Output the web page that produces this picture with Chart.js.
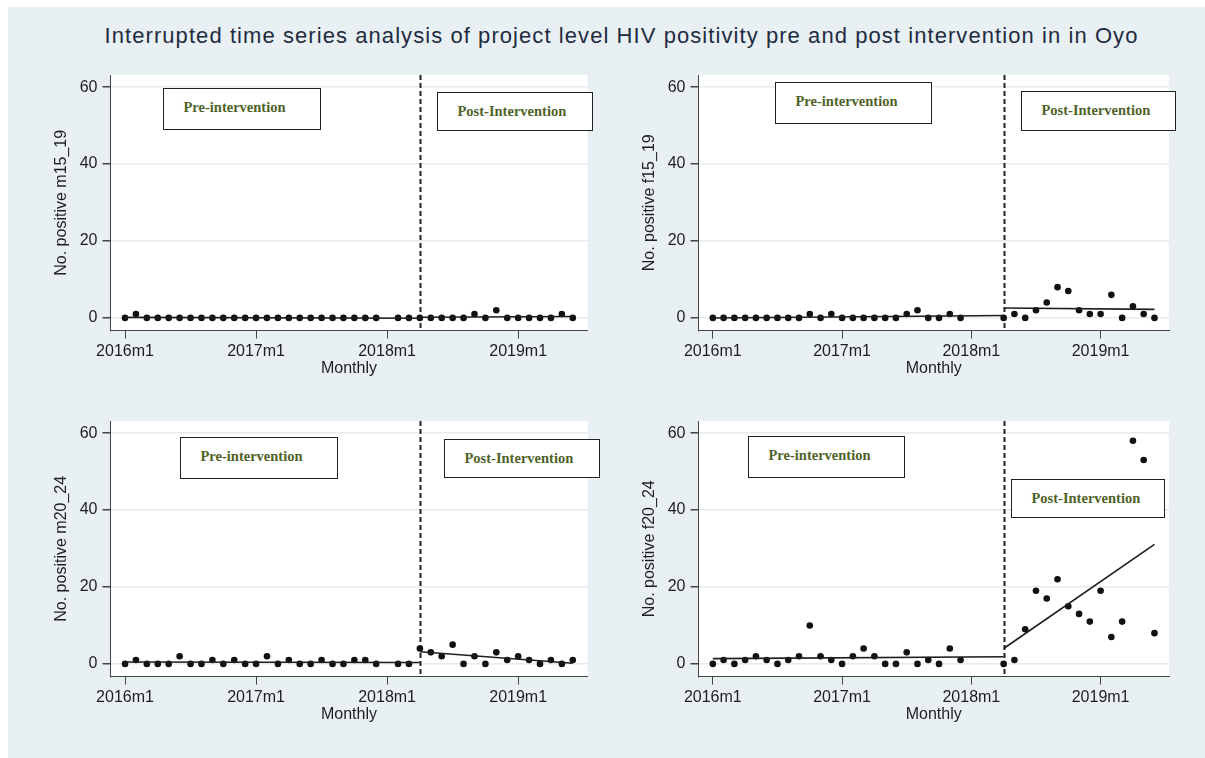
<!DOCTYPE html>
<html>
<head>
<meta charset="utf-8">
<script src="https://cdn.jsdelivr.net/npm/chart.js@4.4.0/dist/chart.umd.min.js"></script>
<style>
  html, body { margin: 0; padding: 0; background: #ffffff; }
  #frame { position: absolute; left: 8px; top: 7px; width: 1197px; height: 751px; background: #e8f0f3; }
  #title { position: absolute; left: 0; top: 23px; width: 1243px; text-align: center; white-space: nowrap;
           font: 22px "Liberation Sans", Arial, sans-serif; letter-spacing: 1.07px; color: #1f2b42; }
  .panel { position: absolute; }
  .note { position: absolute; box-sizing: border-box; background: #ffffff; border: 1.5px solid #222222;
          font: bold 14.5px "Liberation Serif", "Times New Roman", serif; color: #4f6228;
          padding-left: 19.5px; line-height: 17px; white-space: nowrap; }
</style>
</head>
<body>
<div id="frame"></div>
<div id="title">Interrupted time series analysis of project level HIV positivity pre and post intervention in in Oyo</div>

<canvas id="c1" class="panel" width="570" height="330" style="left:40px;top:60px"></canvas>
<canvas id="c2" class="panel" width="570" height="330" style="left:628px;top:60px"></canvas>
<canvas id="c3" class="panel" width="570" height="330" style="left:40px;top:406px"></canvas>
<canvas id="c4" class="panel" width="570" height="330" style="left:628px;top:406px"></canvas>

<div class="note" style="left:163px;top:88px;width:158px;height:42px;padding-top:10px">Pre-intervention</div>
<div class="note" style="left:437px;top:92px;width:156px;height:39px;padding-top:10px">Post-Intervention</div>
<div class="note" style="left:775px;top:82px;width:157px;height:42px;padding-top:10px">Pre-intervention</div>
<div class="note" style="left:1021px;top:91px;width:155px;height:40px;padding-top:10px">Post-Intervention</div>
<div class="note" style="left:180px;top:437px;width:158px;height:42px;padding-top:10px">Pre-intervention</div>
<div class="note" style="left:444px;top:439px;width:156px;height:39px;padding-top:10px">Post-Intervention</div>
<div class="note" style="left:748px;top:436px;width:157px;height:42px;padding-top:10px">Pre-intervention</div>
<div class="note" style="left:1011px;top:479px;width:154px;height:39px;padding-top:10px">Post-Intervention</div>

<script>
// Monthly periods, 2016m1 .. 2019m6 (x position = index in this list)
const monthLabels = [
  "2016m1","2016m2","2016m3","2016m4","2016m5","2016m6","2016m7","2016m8","2016m9","2016m10","2016m11","2016m12",
  "2017m1","2017m2","2017m3","2017m4","2017m5","2017m6","2017m7","2017m8","2017m9","2017m10","2017m11","2017m12",
  "2018m1","2018m2","2018m3","2018m4","2018m5","2018m6","2018m7","2018m8","2018m9","2018m10","2018m11","2018m12",
  "2019m1","2019m2","2019m3","2019m4","2019m5","2019m6"
];
const interventionMonth = 27;   // 2018m4

const xTickValues = [0, 12, 24, 36];
const xTickLabels = ["2016m1", "2017m1", "2018m1", "2019m1"];
const yTickValues = [0, 20, 40, 60];

// Number of positive results per month (null = not reported)
const m15_19 = [0,1,0,0,0,0,0,0,0,0,0,0, 0,0,0,0,0,0,0,0,0,0,0,0, null,0,0,0,0,0,0,0,1,0,2,0, 0,0,0,0,1,0];
const f15_19 = [0,0,0,0,0,0,0,0,0,1,0,1, 0,0,0,0,0,0,1,2,0,0,1,0, null,null,null,0,1,0,2,4,8,7,2,1, 1,6,0,3,1,0];
const m20_24 = [0,1,0,0,0,2,0,0,1,0,1,0, 0,2,0,1,0,0,1,0,0,1,1,0, null,0,0,4,3,2,5,0,2,0,3,1, 2,1,0,1,0,1];
const f20_24 = [0,1,0,1,2,1,0,1,2,10,2,1, 0,2,4,2,0,0,3,0,1,0,4,1, null,null,null,0,1,9,19,17,22,15,13,11, 19,7,11,58,53,8];

const FONT = '"Liberation Sans", Arial, sans-serif';
const INK = '#1e1e1e';

function points(values) {
  const out = [];
  values.forEach((v, i) => { if (v !== null) out.push({ x: i, y: v }); });
  return out;
}

// Ordinary least squares line over the observed months in [from, to], drawn from drawFrom to drawTo
function segmentFit(values, from, to, drawFrom, drawTo) {
  const pts = points(values).filter(p => p.x >= from && p.x <= to);
  const n = pts.length;
  const mx = pts.reduce((s, p) => s + p.x, 0) / n;
  const my = pts.reduce((s, p) => s + p.y, 0) / n;
  let sxy = 0, sxx = 0;
  pts.forEach(p => { sxy += (p.x - mx) * (p.y - my); sxx += (p.x - mx) * (p.x - mx); });
  const b = sxx ? sxy / sxx : 0;
  const a = my - b * mx;
  return [{ x: drawFrom, y: a + b * drawFrom }, { x: drawTo, y: a + b * drawTo }];
}

const plotBackground = {
  id: 'plotBackground',
  beforeDraw(chart) {
    const { ctx, chartArea: a } = chart;
    ctx.save();
    ctx.fillStyle = '#ffffff';
    ctx.fillRect(a.left, a.top, a.right - a.left, a.bottom - a.top);
    ctx.restore();
  }
};

const interventionLine = {
  id: 'interventionLine',
  beforeDatasetsDraw(chart) {
    const { ctx, chartArea: a, scales } = chart;
    const x = Math.round(scales.x.getPixelForValue(interventionMonth)) + 0.5;
    ctx.save();
    ctx.strokeStyle = '#222222';
    ctx.lineWidth = 2;
    ctx.setLineDash([5, 3]);
    ctx.beginPath();
    ctx.moveTo(x, a.top);
    ctx.lineTo(x, a.bottom);
    ctx.stroke();
    ctx.restore();
  }
};

function makePanel(canvasId, values, yTitle, rightPad) {
  const lastMonth = monthLabels.length - 1;
  const pre = segmentFit(values, 0, interventionMonth - 1, 0, interventionMonth);
  const post = segmentFit(values, interventionMonth, lastMonth, interventionMonth, lastMonth);
  const fitStyle = { type: 'line', showLine: true, pointRadius: 0, borderColor: INK, borderWidth: 1.6, fill: false };

  new Chart(document.getElementById(canvasId), {
    type: 'scatter',
    data: {
      datasets: [
        { label: 'pre fit', data: pre, ...fitStyle },
        { label: 'post fit', data: post, ...fitStyle },
        { label: yTitle, data: points(values), pointRadius: 3.3, pointBackgroundColor: '#111111', pointBorderWidth: 0 }
      ]
    },
    options: {
      responsive: false,
      animation: false,
      devicePixelRatio: 1,
      layout: { padding: { top: 15, right: rightPad, left: 0, bottom: 0 } },
      plugins: { legend: { display: false }, tooltip: { enabled: false } },
      scales: {
        x: {
          type: 'linear',
          min: -1.33,
          max: 42.35,
          afterBuildTicks: s => { s.ticks = xTickValues.map(v => ({ value: v })); },
          afterFit: s => { s.height = 59.4; },
          ticks: { callback: (v, i) => xTickLabels[i], font: { family: FONT, size: 16 }, color: INK, padding: 3.5, maxRotation: 0, autoSkip: false },
          grid: { drawOnChartArea: false, tickLength: 8, tickColor: '#444444' },
          border: { color: '#444444', width: 1 },
          title: { display: true, text: 'Monthly', font: { family: FONT, size: 16 }, color: INK, padding: { top: 0, bottom: 11.5 } }
        },
        y: {
          type: 'linear',
          min: -3.3,
          max: 63.15,
          afterBuildTicks: s => { s.ticks = yTickValues.map(v => ({ value: v })); },
          afterFit: s => { s.width = 70.5; },
          ticks: { font: { family: FONT, size: 16 }, color: INK, padding: 5 },
          grid: { color: '#e4ecf0', lineWidth: 1.5, tickLength: 8, tickColor: '#444444' },
          border: { color: '#444444', width: 1 },
          title: { display: true, text: yTitle, font: { family: FONT, size: 16 }, color: INK, padding: { top: 12, bottom: 0 } }
        }
      }
    },
    plugins: [plotBackground, interventionLine]
  });
}

makePanel('c1', m15_19, 'No. positive m15_19', 22.5);
makePanel('c2', f15_19, 'No. positive f15_19', 29);
makePanel('c3', m20_24, 'No. positive m20_24', 22.5);
makePanel('c4', f20_24, 'No. positive f20_24', 29);
</script>
</body>
</html>
